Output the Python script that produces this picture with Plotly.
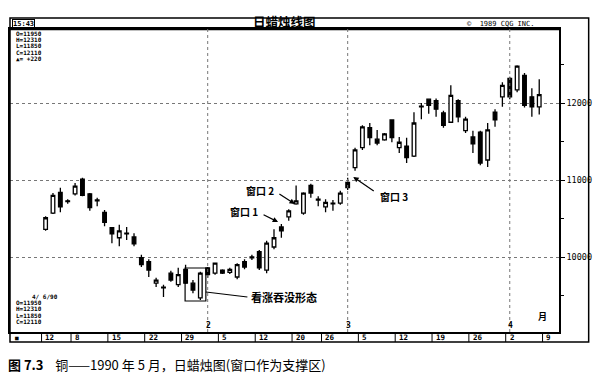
import plotly.graph_objects as go

# ---------------- data (copper, daily, 1990-01-02 .. 1990-04-06) ----------------
opens = [10360,10570,10840,10730,10820,11010,10820,10740,10580,10380,
         10250,10310,10260,9990,9940,9660,9610,9790,9640,9840,
         9660,9470,9860,9790,9830,9800,9740,9940,10000,10070,
         9830,10130,10390,10520,10690,10570,10930,10750,10650,10700,
         10700,10970,11160,11420,11680,11530,11520,11780,11420,11440,
         11310,11960,12050,12030,11870,11750,12030,11640,11560,11620,
         11260,11880,12080,12320,12170,12360,12080,11950]
highs = [10530,10830,10900,10750,10960,11030,10830,10770,10610,10390,
         10420,10390,10310,10030,9970,9730,9640,9820,9860,9900,
         9700,9810,9870,9930,9840,9860,9920,9970,10030,10090,
         10210,10360,10430,10620,10930,10840,10950,10790,10750,10740,
         10860,11030,11420,11710,11740,11650,11610,11790,11560,11550,
         11880,12000,12060,12060,11900,12230,12050,11820,11640,11640,
         11740,11920,12270,12340,12490,12390,12190,12310]
lows = [10340,10560,10580,10690,10800,10790,10600,10660,10400,10180,
        10140,10220,10140,9870,9740,9610,9480,9680,9610,9650,
        9530,9440,9730,9770,9780,9780,9710,9840,9960,9830,
        9790,10100,10250,10470,10680,10550,10770,10660,10580,10600,
        10680,10870,11120,11390,11450,11450,11510,11490,11350,11220,
        11300,11790,11860,11820,11680,11740,11750,11610,11350,11190,
        11170,11690,11950,12050,12140,11940,11820,11850]
closes = [10510,10800,10650,10720,10920,10800,10640,10730,10450,10300,
          10340,10300,10170,9900,9830,9700,9600,9700,9770,9660,
          9570,9790,9770,9920,9790,9840,9900,9870,9990,9860,
          10180,10250,10340,10600,10730,10830,10830,10740,10710,10690,
          10830,10900,11390,11690,11550,11480,11600,11550,11490,11290,
          11740,11950,11970,11920,11710,12100,11820,11790,11470,11220,
          11650,11780,12230,12080,12480,11970,11950,12110]
day_index = list(range(len(opens)))

# week-start trading-day indices and their date labels
week_idx = [0, 4, 9, 14, 19, 24, 29, 34, 38, 43, 48, 53, 58, 63, 68]
week_labels = ["12", "8", "15", "22", "29", "5", "12", "20", "26", "5", "12", "19", "26", "2", "9"]
# month starts
month_idx = [22, 41, 63]
month_labels = ["2", "3", "4"]

price_ticks = [10000, 11000, 12000]
price_tick_labels = ["10000", "11000", "12000"]

info_top = ["O=11950", "H=12310", "L=11850", "C=12110", "\u25b2= +220"]
info_bottom = ["4/ 6/90", "O=11950", "H=12310", "L=11850", "C=12110"]

# ---------------- layout helpers (pixel geometry) ----------------
W, H = 600, 379
PL, PR, PT, PB = 8, 563, 29, 332          # plot area in pixels
X0_PX, DX_PX = 44.0, 7.448                 # pixel of index 0, pixels per day
Y12_PX, PX_PER_1000 = 103.0, 77.0

def xd(px):
    return (px - X0_PX) / DX_PX

def yd(py):
    return 12000 + (Y12_PX - py) * 1000.0 / PX_PER_1000

def xp(px):
    return (px - PL) / (PR - PL)

def yp(py):
    return (PB - py) / (PB - PT)

MONO = "DejaVu Sans Mono"
CJK = "Noto Sans CJK SC"

fig = go.Figure()
fig.add_trace(go.Candlestick(
    x=day_index, open=opens, high=highs, low=lows, close=closes,
    increasing=dict(line=dict(color="black", width=1.3), fillcolor="white"),
    decreasing=dict(line=dict(color="black", width=1.3), fillcolor="black"),
    whiskerwidth=0, showlegend=False, hoverinfo="skip",
))

shapes = []
# outer frame
shapes.append(dict(type="rect", xref="paper", yref="paper",
                   x0=xp(8), x1=xp(593), y0=yp(342), y1=yp(18),
                   line=dict(color="black", width=1.5)))
# thick header line
shapes.append(dict(type="line", xref="paper", yref="paper",
                   x0=xp(8), x1=xp(563), y0=yp(29), y1=yp(29),
                   line=dict(color="black", width=2.5)))
# date strip separators
for wi in week_idx:
    shapes.append(dict(type="line", xref="x", yref="paper",
                       x0=wi - 0.55, x1=wi - 0.55, y0=yp(342), y1=yp(332),
                       line=dict(color="black", width=1)))
# month dotted lines
for mi in month_idx:
    shapes.append(dict(type="line", xref="x", yref="paper",
                       x0=mi, x1=mi, y0=0, y1=1,
                       line=dict(color="#777", width=1, dash="dot")))
# bullish engulfing box
shapes.append(dict(type="rect", xref="x", yref="y",
                   x0=xd(185), x1=xd(206), y0=yd(301), y1=yd(268),
                   line=dict(color="black", width=1.2)))
shapes.append(dict(type="line", xref="x", yref="y",
                   x0=xd(206), x1=xd(248), y0=yd(292), y1=yd(297),
                   line=dict(color="black", width=1.2)))

ann = []
# title
ann.append(dict(text="<b>日蜡烛线图</b>", xref="paper", yref="paper",
                x=xp(285), y=yp(10), showarrow=False,
                font=dict(family=CJK, size=12.5, color="black")))
# time box
ann.append(dict(text="<b>15:43</b>", xref="paper", yref="paper",
                x=xp(10), y=yp(23.5), xanchor="left", yanchor="middle",
                showarrow=False, bordercolor="black", borderwidth=1, borderpad=0,
                font=dict(family=MONO, size=7, color="black")))
# copyright
ann.append(dict(text="©  1989 CQG INC.", xref="paper", yref="paper",
                x=xp(468), y=yp(23.5), xanchor="left", yanchor="middle",
                showarrow=False, font=dict(family=MONO, size=7, color="black")))
for i, t in enumerate(info_top):
    ann.append(dict(text="<b>" + t + "</b>", xref="paper", yref="paper",
                    x=xp(12), y=yp(33 + 6.4 * i), xanchor="left", yanchor="middle",
                    showarrow=False, font=dict(family=MONO, size=6, color="black")))
for i, t in enumerate(info_bottom):
    ann.append(dict(text="<b>" + t + "</b>", xref="paper", yref="paper",
                    x=xp(12 if i else 28), y=yp(296 + 6.4 * i), xanchor="left", yanchor="middle",
                    showarrow=False, font=dict(family=MONO, size=6, color="black")))
# date strip labels
ann.append(dict(text="■", xref="paper", yref="paper", x=xp(11), y=yp(337.5),
                xanchor="left", yanchor="middle", showarrow=False,
                font=dict(family=MONO, size=6, color="black")))
for wi, lab in zip(week_idx, week_labels):
    ann.append(dict(text="<b>" + lab + "</b>", xref="x", yref="paper",
                    x=wi - 0.3, y=yp(337.5), xanchor="left", yanchor="middle",
                    showarrow=False, font=dict(family=MONO, size=7.5, color="black")))
for mi, lab in zip(month_idx, month_labels):
    ann.append(dict(text="<b>" + lab + "</b>", xref="x", yref="paper",
                    x=mi + 0.1, y=yp(325), xanchor="center", yanchor="middle",
                    showarrow=False, font=dict(family=MONO, size=8, color="black")))
ann.append(dict(text="<b>月</b>", xref="paper", yref="paper", x=xp(553), y=yp(325),
                showarrow=False, font=dict(family=CJK, size=9, color="black")))

# window annotations
def label(text, cx, cy, size=10):
    ann.append(dict(text="<b>" + text + "</b>", xref="x", yref="y",
                    x=xd(cx), y=yd(cy), showarrow=False,
                    font=dict(family=CJK, size=size, color="black")))

def arrow(tx, ty, hx, hy):
    ann.append(dict(text="", xref="x", yref="y", x=xd(hx), y=yd(hy),
                    ax=tx - hx, ay=ty - hy, showarrow=True,
                    arrowhead=2, arrowsize=0.9, arrowwidth=1.2, arrowcolor="black"))

label("窗口 1", 245, 211)
arrow(263, 214, 279, 222)
label("窗口 2", 261, 190)
arrow(279, 193, 296, 204)
label("窗口 3", 396, 196)
arrow(377, 192, 355, 177)
ann.append(dict(text="<b>看涨吞没形态</b>", xref="x", yref="y",
                x=xd(250), y=yd(297), xanchor="left", yanchor="middle",
                showarrow=False, font=dict(family=CJK, size=11, color="black")))

# caption
ann.append(dict(text="<b>图 7.3</b>    铜——1990 年 5 月，日蜡烛图(窗口作为支撑区)",
                xref="paper", yref="paper", x=xp(4), y=yp(364),
                xanchor="left", yanchor="middle", showarrow=False,
                font=dict(family=CJK, size=13, color="black")))

fig.update_layout(
    width=W, height=H,
    margin=dict(l=PL, r=W - PR, t=PT, b=H - PB, pad=0),
    paper_bgcolor="white", plot_bgcolor="white",
    shapes=shapes, annotations=ann, showlegend=False,
    xaxis=dict(range=[xd(PL), xd(PR)], showgrid=False, zeroline=False,
               showticklabels=False, ticks="", showline=True, mirror=True,
               linecolor="black", linewidth=1.5, rangeslider=dict(visible=False),
               fixedrange=True),
    yaxis=dict(range=[yd(PB), yd(PT)], side="right", tickvals=price_ticks,
               ticktext=price_tick_labels, ticks="outside", ticklen=4,
               tickcolor="black", showline=True, mirror=True, linecolor="black",
               linewidth=1.5, showgrid=True, gridcolor="#777", griddash="dot",
               gridwidth=1, zeroline=False,
               minor=dict(dtick=500, tick0=0, ticks="outside", ticklen=3,
                          tickcolor="black", showgrid=False),
               tickfont=dict(family=MONO, size=8.5, color="black"), fixedrange=True),
)

fig.write_html("out.html")
